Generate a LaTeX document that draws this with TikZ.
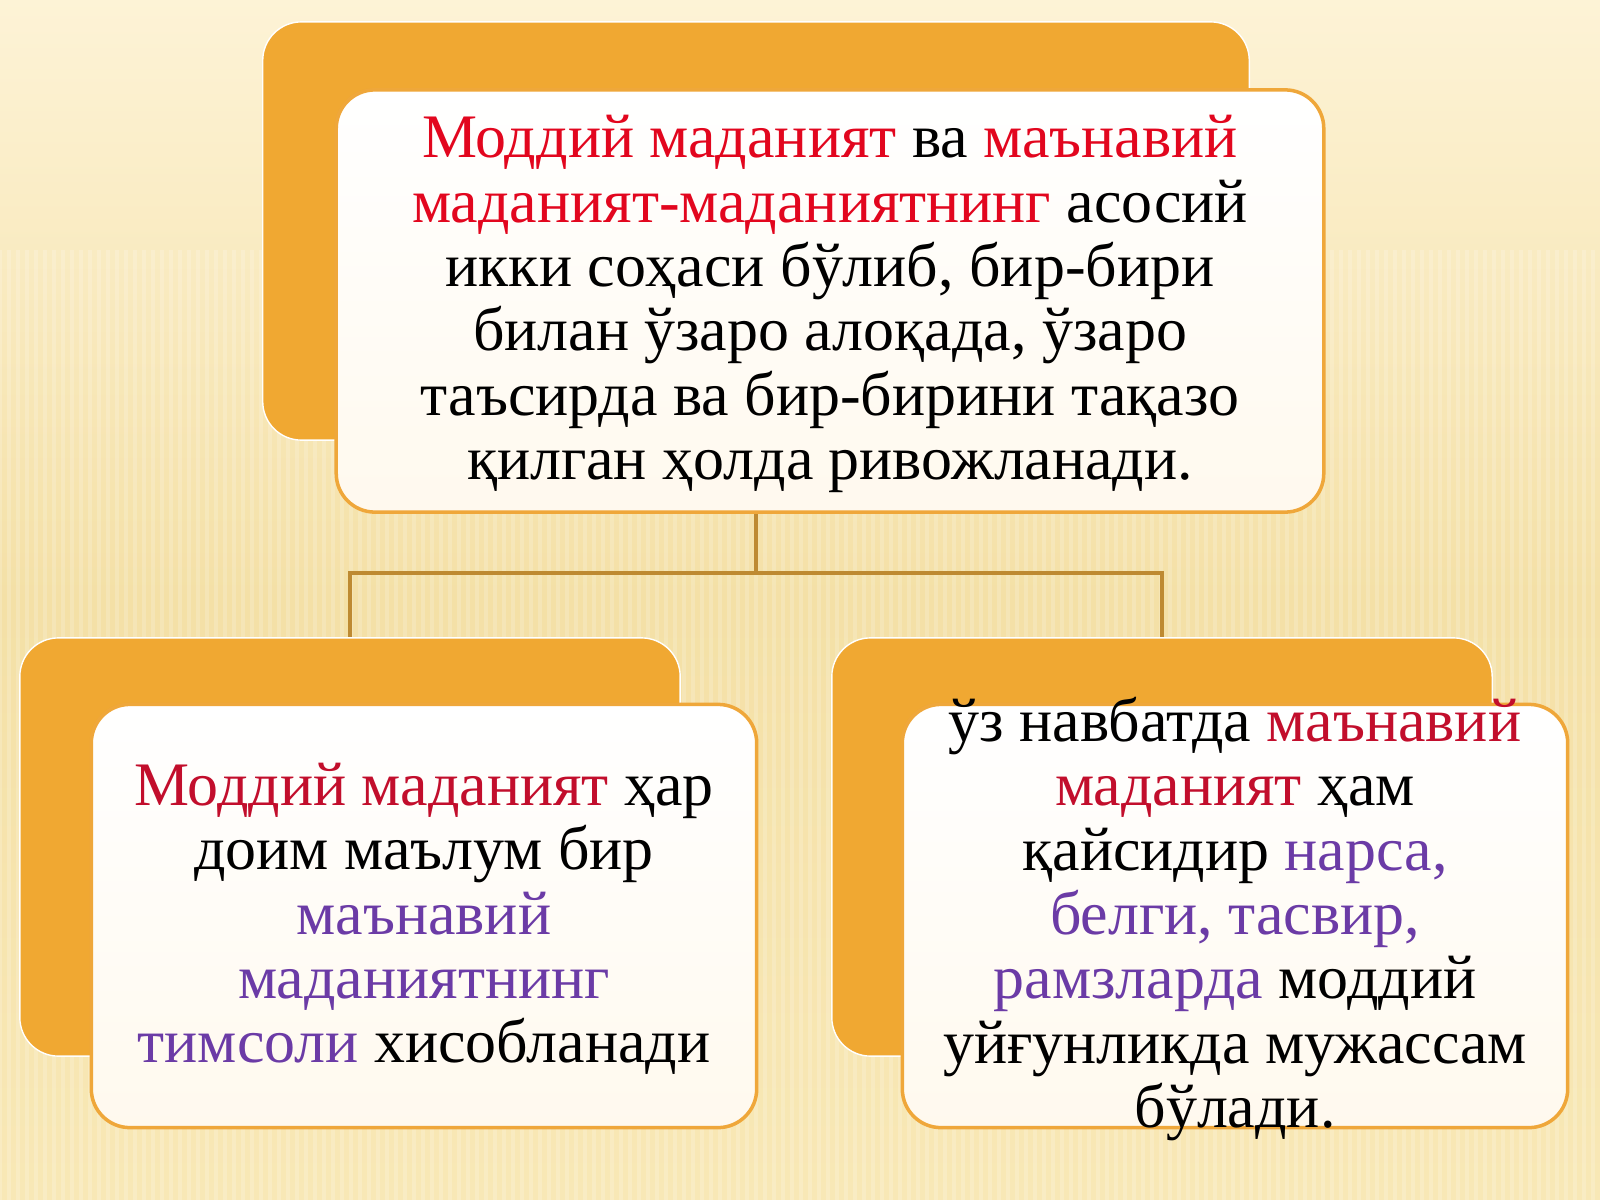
\documentclass[tikz,border=0pt]{standalone}
\usepackage{fontspec}
\setmainfont{Liberation Serif}
\usepackage{tikz}

\definecolor{bgtop}{HTML}{FDF3D6}
\definecolor{bgmid}{HTML}{F4E0A6}
\definecolor{bgbot}{HTML}{F8E8B6}
\definecolor{backorange}{HTML}{F0A832}
\definecolor{frontline}{HTML}{EFA73A}
\definecolor{linkline}{HTML}{BE8A32}
\definecolor{frontbot}{HTML}{FFF9EE}
\definecolor{keyred}{HTML}{E2061E}
\definecolor{darkred}{HTML}{C20E2C}
\definecolor{keypurple}{HTML}{6B3BA6}

\begin{document}
\begin{tikzpicture}[
x=0.01cm, y=-0.01cm,
backbox/.style={rectangle, rounded corners=11pt, fill=backorange, draw=white, thin,
  minimum width=6.6cm, minimum height=4.18cm, inner sep=0pt},
frontbox/.style={rectangle, rounded corners=11pt, top color=white, bottom color=frontbot,
  draw=frontline, line width=1pt, minimum width=6.65cm, minimum height=4.23cm, inner sep=0pt},
bodytext/.style={align=center, inner sep=0pt, yshift=-0.03cm,
  font=\fontsize{17.6pt}{18.3pt}\selectfont},
link/.style={draw=linkline, line width=1pt},
]
\useasboundingbox (0,0) rectangle (1600,1200);
\shade[top color=bgtop, bottom color=bgbot, middle color=bgmid] (0,0) rectangle (1600,1200);
\foreach \sx in {0,9,...,1600}
  \draw[white, opacity=0.18, line width=1.2pt] (\sx,250) -- (\sx,1200);

%Nodes
\node[backbox, minimum width=9.86cm] (topback) at (756,231) {};
\node[backbox] (leftback) at (350,847) {};
\node[backbox] (rightback) at (1162,847) {};

\draw[link] (topback.south) -- ++(0,132) coordinate (fork);
\draw[link] (fork) -| (leftback.north);
\draw[link] (fork) -| (rightback.north);

\node[frontbox, minimum width=9.87cm, minimum height=4.22cm] (topfront) at (830,301) {};
\node[frontbox] (leftfront) at (424,916) {};
\node[frontbox] (rightfront) at (1235,916) {};

\node[bodytext] (toptext) at (topfront.center) {%
{\color{keyred}Моддий маданият} ва {\color{keyred}маънавий}\\
{\color{keyred}маданият-маданиятнинг} асосий\\
икки соҳаси бўлиб, бир-бири\\
билан ўзаро алоқада, ўзаро\\
таъсирда ва бир-бирини тақазо\\
қилган ҳолда ривожланади.};

\node[bodytext] (lefttext) at (leftfront.center) {%
{\color{darkred}Моддий маданият} ҳар\\
доим маълум бир\\
{\color{keypurple}маънавий}\\
{\color{keypurple}маданиятнинг}\\
{\color{keypurple}тимсоли} хисобланади};

\node[bodytext] (righttext) at (rightfront.center) {%
ўз навбатда {\color{darkred}маънавий}\\
{\color{darkred}маданият} ҳам\\
қайсидир {\color{keypurple}нарса,}\\
{\color{keypurple}белги, тасвир,}\\
{\color{keypurple}рамзларда} моддий\\
уйғунликда мужассам\\
бўлади.};
\end{tikzpicture}
\end{document}
